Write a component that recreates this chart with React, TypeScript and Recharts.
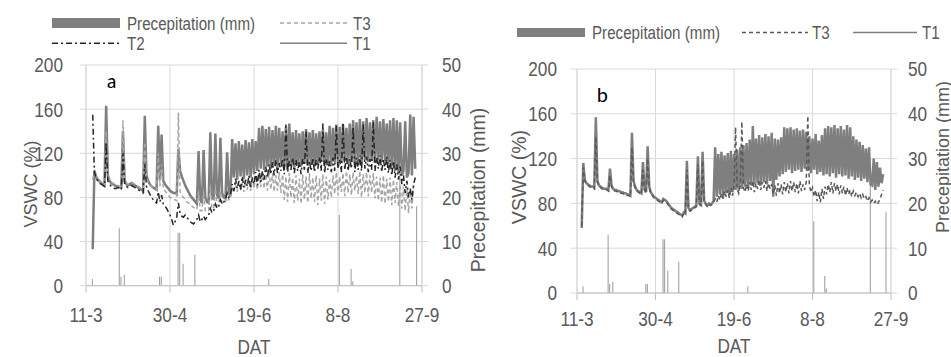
import React from 'react';
import { ComposedChart, Line, Bar, XAxis, YAxis, CartesianGrid } from 'recharts';

const regular = "'Liberation Sans', Arial, sans-serif";
const textColor = '#595959';
const squeeze = 0.82; // narrow look of the original font

// days after transplanting (0 = 11-3)
const tickDays = [0, 50, 100, 150, 200];
const tickLabels = ['11-3', '30-4', '19-6', '8-8', '27-9'];
const vswcTicks = [0, 40, 80, 120, 160, 200];
const rainTicks = [0, 10, 20, 30, 40, 50];

// precipitation events: day -> mm
const rainDays = [4, 20, 21, 23, 44, 45, 55, 56, 58, 65, 109, 151, 158, 159, 187, 197];
const rainMm = [1.5, 13, 2, 2.5, 2, 2, 12, 12, 5, 7, 1.5, 16, 3.8, 1, 26, 18];

// panel a, daily readings from day 4
const startA = 4;
const t1A = [
  33, 104, 99, 96, 95, 93, 92, 91, 163, 100,
  95, 93, 92, 91, 90, 90, 89, 89, 140, 95,
  92, 91, 92, 93, 92, 91, 90, 89, 88, 87,
  86, 154, 100, 95, 92, 90, 89, 88, 87, 145,
  96, 137, 95, 92, 90, 88, 86, 85, 84, 84,
  83, 124, 104, 99, 95, 91, 88, 85, 82, 80,
  78, 76, 74, 122, 78, 75, 123, 80, 76, 75,
  139, 82, 78, 138, 82, 79, 134, 84, 80, 79,
  121, 84, 81,
  133, 98, 129, 96, 131, 99, 128, 97, 132, 100,
  130, 98, 133, 101, 131, 104, 143, 106, 145, 105,
  142, 108, 144, 106, 141, 109, 145, 107, 143, 110,
  140, 108, 144, 105, 147, 109, 139, 107, 141, 110,
  138, 108, 140, 111, 142, 109, 139, 110, 141, 108,
  138, 110, 140, 112, 142, 109, 139, 111, 145, 110,
  143, 112, 146, 109, 144, 111, 146, 113, 143, 110,
  147, 112, 150, 111, 148, 113, 151, 110, 149, 114,
  152, 112, 148, 113, 150, 111, 153, 114, 149, 112,
  151, 113, 147, 110, 150, 108, 152, 104, 150, 102,
  148, 100, 104, 149, 98, 102, 155, 100, 153, 106,
];
const t2A = [
  155, 103, 98, 95, 93, 92, 91, 90, 130, 95,
  92, 90, 89, 88, 88, 89, 88, 87, 120, 92,
  90, 89, 90, 91, 90, 89, 88, 87, 86, 85,
  84, 110, 90, 86, 83, 80, 78, 76, 75, 85,
  76, 82, 74, 72, 70, 67, 64, 60, 55, 58,
  62, 75, 66, 63, 62, 64, 62, 60, 58, 57,
  56, 58, 60, 64, 58, 60, 63, 60, 62, 64,
  70, 66, 68, 74, 70, 72, 78, 74, 76, 78,
  84, 80, 82,
  92, 86, 97, 88, 95, 87, 99, 89, 96, 90,
  100, 88, 98, 92, 103, 91, 105, 94, 104, 96,
  108, 98, 110, 101, 112, 100, 114, 102, 111, 104,
  115, 101, 146, 103, 113, 105, 116, 102, 114, 104,
  112, 101, 115, 105, 140, 102, 113, 104, 116, 103,
  114, 106, 117, 104, 147, 102, 115, 105, 113, 103,
  116, 104, 145, 106, 114, 103, 148, 105, 117, 104,
  115, 106, 144, 103, 116, 105, 118, 104, 146, 106,
  117, 103, 115, 105, 149, 104, 116, 106, 118, 103,
  115, 105, 117, 102, 114, 100, 113, 98, 110, 96,
  108, 92, 100, 84, 95, 80, 88, 78, 92, 98,
];
const t3A = [
  96, 105, 100, 97, 96, 94, 93, 92, 140, 101,
  96, 94, 93, 92, 91, 91, 90, 90, 150, 97,
  93, 92, 93, 94, 93, 92, 91, 90, 89, 88,
  87, 130, 97, 94, 92, 90, 89, 88, 87, 120,
  90, 110, 88, 86, 84, 82, 80, 79, 78, 78,
  77, 157, 85, 82, 80, 78, 76, 75, 74, 72,
  71, 70, 69, 85, 68, 68, 84, 68, 67, 68,
  90, 70, 70, 88, 72, 73, 86, 74, 75, 76,
  84, 78, 80,
  88, 84, 92, 85, 94, 86, 93, 85, 95, 87,
  96, 86, 98, 88, 100, 87, 102, 89, 103, 88,
  101, 86, 104, 87, 102, 85, 100, 86, 103, 84,
  101, 78, 99, 76, 102, 80, 98, 75, 100, 77,
  97, 74, 101, 78, 99, 75, 102, 79, 98, 76,
  100, 73, 97, 77, 101, 74, 99, 78, 96, 80,
  100, 83, 103, 82, 99, 85, 102, 81, 104, 84,
  101, 82, 103, 86, 100, 83, 104, 80, 101, 84,
  103, 81, 100, 84, 102, 79, 99, 77, 98, 75,
  100, 74, 97, 76, 98, 73, 96, 75, 94, 72,
  92, 70, 90, 68, 88, 66, 86, 70, 90, 88,
];

// panel b, daily readings from day 3
const startB = 3;
const t1B = [
  58, 116, 101, 98, 97, 96, 95, 95, 94, 157,
  100, 96, 95, 94, 93, 93, 93, 92, 111, 96,
  93, 92, 92, 91, 91, 90, 90, 89, 89, 88,
  88, 87, 143, 100, 95, 92, 91, 90, 89, 117,
  93, 90, 131, 95, 90, 88, 86, 85, 84, 83,
  82, 81, 84, 83, 82, 80, 78, 76, 75, 74,
  73, 72, 71, 70, 69, 72, 71, 118, 76, 74,
  75, 76, 77, 78, 122, 80, 79, 126, 82, 80,
  78, 80, 79, 80, 82,
  130, 86, 124, 88, 126, 85, 123, 89, 125, 87,
  127, 90, 124, 92, 128, 91, 130, 93, 132, 95,
  134, 94, 137, 96, 149, 97, 138, 98, 141, 96,
  139, 99, 142, 97, 140, 100, 143, 86, 138, 101,
  137, 104, 139, 106, 148, 108, 147, 110, 148, 107,
  146, 109, 147, 110, 145, 108, 146, 111, 144, 109,
  140, 107, 138, 110, 142, 106, 136, 108, 141, 105,
  147, 106, 149, 104, 148, 107, 150, 103, 147, 106,
  149, 104, 146, 105, 150, 102, 148, 104, 140, 101,
  137, 103, 135, 100, 132, 102, 129, 99, 130, 97,
  96, 120, 92, 117, 95, 112, 98, 106,
];
const t3B = [
  60, 112, 100, 97, 96, 95, 94, 94, 93, 140,
  99, 95, 94, 93, 92, 92, 92, 91, 105, 95,
  92, 91, 91, 90, 90, 89, 89, 88, 88, 87,
  87, 86, 130, 98, 94, 91, 90, 89, 88, 110,
  92, 89, 120, 94, 89, 87, 85, 84, 83, 82,
  81, 80, 83, 82, 81, 79, 77, 75, 74, 73,
  72, 71, 70, 69, 68, 71, 70, 110, 75, 73,
  74, 75, 76, 77, 115, 79, 78, 118, 81, 79,
  77, 79, 78, 79, 81,
  84, 81, 87, 83, 89, 84, 91, 86, 92, 85,
  94, 87, 95, 148, 93, 89, 96, 153, 94, 90,
  97, 91, 99, 92, 100, 90, 98, 93, 101, 92,
  99, 94, 100, 91, 98, 93, 97, 88, 96, 87,
  98, 89, 97, 88, 99, 90, 98, 89, 100, 91,
  99, 90, 98, 89, 100, 91, 97, 92, 99, 158,
  96, 90, 94, 86, 92, 82, 90, 81, 93, 84,
  95, 88, 97, 90, 99, 89, 98, 91, 97, 88,
  96, 89, 95, 87, 94, 88, 92, 86, 91, 87,
  90, 86, 89, 85, 88, 84, 86, 82, 85, 81,
  83, 80, 82, 79, 81, 84, 88, 92,
];

const pick = (arr: number[], start: number, d: number) =>
  d >= start && d < start + arr.length ? arr[d - start] : null;
const rainAt = (d: number) => {
  const i = rainDays.indexOf(d);
  return i >= 0 ? rainMm[i] : 0;
};

const dataA = Array.from({ length: 201 }, (_, d) => ({
  day: d,
  rain: rainAt(d),
  t1: pick(t1A, startA, d),
  t2: pick(t2A, startA, d),
  t3: pick(t3A, startA, d),
}));
const dataB = Array.from({ length: 201 }, (_, d) => ({
  day: d,
  rain: rainAt(d),
  t1: pick(t1B, startB, d),
  t3: pick(t3B, startB, d),
}));

const fmtDay = (v: number) => tickLabels[tickDays.indexOf(v)];

// text squeezed horizontally around its anchor point
const NarrowText = ({ x, y, size, anchor = 'start', dy, children }: any) => (
  <g transform={`translate(${x},${y}) scale(${squeeze},1)`}>
    <text x={0} y={0} dy={dy} textAnchor={anchor} fill={textColor} fontSize={size} fontFamily={regular}>
      {children}
    </text>
  </g>
);

const XTick = (props: any) => (
  <NarrowText x={props.x} y={props.y} size={21} anchor="middle" dy="0.71em">
    {fmtDay(props.payload.value)}
  </NarrowText>
);
const YTick = (props: any) => (
  <NarrowText x={props.x} y={props.y} size={21} anchor={props.textAnchor} dy="0.355em">
    {props.payload.value}
  </NarrowText>
);

type PanelProps = {
  data: any[];
  width: number;
  top: number;
  leftW: number;
  rightW: number;
  xH: number;
  xMargin: number;
  yMarginL: number;
  yMarginR: number;
  children: React.ReactNode;
};

const Panel = (p: PanelProps) => (
  <ComposedChart width={p.width} height={357} data={p.data} margin={{ top: p.top, right: 0, bottom: 0, left: 0 }}>
    <CartesianGrid stroke="#d9d9d9" yAxisId="vswc" />
    <XAxis
      dataKey="day"
      type="number"
      domain={[0, 200]}
      ticks={tickDays}
      interval={0}
      height={p.xH}
      tickSize={7}
      tickMargin={p.xMargin}
      axisLine={{ stroke: '#bfbfbf' }}
      tickLine={{ stroke: '#bfbfbf' }}
      tick={<XTick />}
    />
    <YAxis
      yAxisId="vswc"
      domain={[0, 200]}
      ticks={vswcTicks}
      interval={0}
      width={p.leftW}
      tickSize={6}
      tickMargin={p.yMarginL}
      axisLine={{ stroke: '#d9d9d9' }}
      tickLine={{ stroke: '#d9d9d9' }}
      tick={<YTick />}
    />
    <YAxis
      yAxisId="rain"
      orientation="right"
      domain={[0, 50]}
      ticks={rainTicks}
      interval={0}
      width={p.rightW}
      tickSize={6}
      tickMargin={p.yMarginR}
      axisLine={{ stroke: '#d9d9d9' }}
      tickLine={{ stroke: '#d9d9d9' }}
      tick={<YTick />}
    />
    {p.children}
  </ComposedChart>
);

const lineProps = { dot: false, activeDot: false, isAnimationActive: false, yAxisId: 'vswc' } as const;

const VTitle = ({ x, y, size, text }: { x: number; y: number; size: number; text: string }) => (
  <text
    x={x}
    y={y}
    fontSize={size}
    transform={`rotate(-90, ${x}, ${y})`}
    fill={textColor}
    fontFamily={regular}
    textAnchor="middle"
    dominantBaseline="central"
  >
    {text}
  </text>
);

export default function App() {
  return (
    <div style={{ position: 'absolute', left: 0, top: 0, width: 951, height: 357, background: '#fff', overflow: 'hidden' }}>
      <div style={{ position: 'absolute', left: 0, top: 0 }}>
        <Panel data={dataA} width={500} top={65} leftW={86} rightW={78} xH={71.3} xMargin={14.8} yMarginL={17} yMarginR={14}>
          <Bar yAxisId="rain" dataKey="rain" fill="#9a9a9a" barSize={1} isAnimationActive={false} />
          <Line {...lineProps} dataKey="t1" stroke="#7f7f7f" strokeWidth={2.5} />
          <Line {...lineProps} dataKey="t3" stroke="#a6a6a6" strokeWidth={1.5} strokeDasharray="4 3" />
          <Line {...lineProps} dataKey="t2" stroke="#262626" strokeWidth={1.5} strokeDasharray="6 3 2 3" />
        </Panel>
      </div>
      <div style={{ position: 'absolute', left: 475, top: 0 }}>
        <Panel data={dataB} width={476} top={69} leftW={102} rightW={60} xH={64} xMargin={11.5} yMarginL={14} yMarginR={11}>
          <Bar yAxisId="rain" dataKey="rain" fill="#9a9a9a" barSize={1} isAnimationActive={false} />
          <Line {...lineProps} dataKey="t1" stroke="#7f7f7f" strokeWidth={2.5} />
          <Line {...lineProps} dataKey="t3" stroke="#595959" strokeWidth={1.5} strokeDasharray="4 3" />
        </Panel>
      </div>
      <svg width={951} height={357} style={{ position: 'absolute', left: 0, top: 0, pointerEvents: 'none' }}>
        {/* legend, panel a */}
        <rect x={52} y={18} width={68} height={10} fill="#7f7f7f" />
        <NarrowText x={127} y={29.6} size={18.5}>Precepitation (mm)</NarrowText>
        <line x1={280} x2={347} y1={23} y2={23} stroke="#a6a6a6" strokeWidth={1.5} strokeDasharray="4 3" />
        <NarrowText x={353} y={29.6} size={18.5}>T3</NarrowText>
        <line x1={52} x2={120} y1={43.3} y2={43.3} stroke="#262626" strokeWidth={1.5} strokeDasharray="6 3 2 3" />
        <NarrowText x={127} y={49.9} size={18.5}>T2</NarrowText>
        <line x1={280} x2={347} y1={43.3} y2={43.3} stroke="#7f7f7f" strokeWidth={1.5} />
        <NarrowText x={353} y={49.9} size={18.5}>T1</NarrowText>
        {/* legend, panel b */}
        <rect x={517} y={28} width={68} height={9} fill="#7f7f7f" />
        <NarrowText x={592} y={39.1} size={18.5}>Precepitation (mm)</NarrowText>
        <line x1={742} x2={808} y1={32.5} y2={32.5} stroke="#595959" strokeWidth={1.5} strokeDasharray="4 3" />
        <NarrowText x={812} y={39.1} size={18.5}>T3</NarrowText>
        <line x1={853} x2={917} y1={32.5} y2={32.5} stroke="#7f7f7f" strokeWidth={1.5} />
        <NarrowText x={922} y={39.1} size={18.5}>T1</NarrowText>
        {/* panel letters */}
        <text x={106.7} y={88} fontSize={20} fill="#000" fontFamily="Carlito, Lato, sans-serif">a</text>
        <text x={596.7} y={101.7} fontSize={21} fill="#000" fontFamily="Carlito, Lato, sans-serif">b</text>
        {/* axis titles */}
        <NarrowText x={254} y={354} size={21} anchor="middle">DAT</NarrowText>
        <NarrowText x={734} y={353} size={21} anchor="middle">DAT</NarrowText>
        <VTitle x={30.5} y={184} size={18} text="VSWC (%)" />
        <VTitle x={477.5} y={190} size={19.5} text="Precepitation (mm)" />
        <VTitle x={519} y={177} size={19.5} text="VSWC (%)" />
        <VTitle x={942.5} y={157} size={18} text="Precepitation (mm)" />
      </svg>
    </div>
  );
}
